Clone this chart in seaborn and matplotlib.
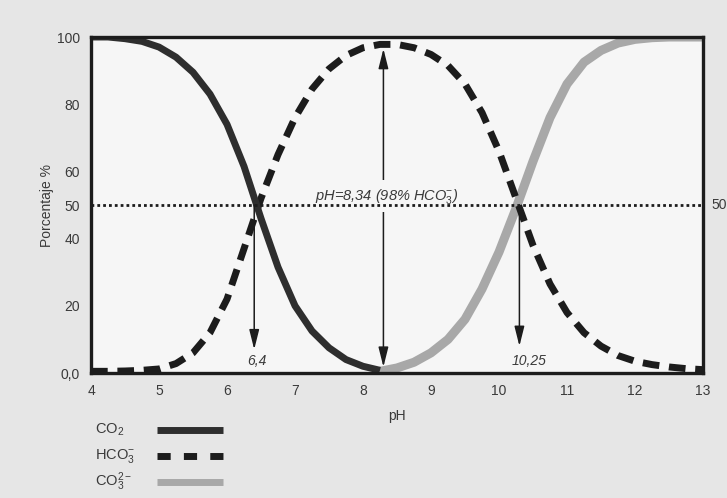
import matplotlib
matplotlib.use("Agg")
import matplotlib.pyplot as plt
import seaborn as sns
from matplotlib.lines import Line2D

# pH grid (step 0.25)
ph = [4.0, 4.25, 4.5, 4.75, 5.0, 5.25, 5.5, 5.75, 6.0, 6.25, 6.5, 6.75,
      7.0, 7.25, 7.5, 7.75, 8.0, 8.25, 8.5, 8.75, 9.0, 9.25, 9.5, 9.75,
      10.0, 10.25, 10.5, 10.75, 11.0, 11.25, 11.5, 11.75, 12.0, 12.25,
      12.5, 12.75, 13.0]

# CO2 only drawn up to pH 8.25, CO3 2- from 8.25 on
co2_ph = ph[:18]
co2 = [100, 100, 99.5, 98.7, 97, 94, 89.5, 83, 74, 61.5, 46, 31.5,
       20, 12.5, 7.5, 4, 2, 0.8]

hco3 = [0.5, 0.5, 0.6, 0.8, 1.2, 2.8, 6, 12, 22, 37, 52, 65,
        76, 84.5, 90.5, 94.5, 96.8, 97.8, 97.8, 96.8, 94.8, 91.5, 86, 77.5,
        66, 52, 38, 26.5, 18, 12, 8, 5.2, 3.5, 2.5,
        1.8, 1.3, 1]

co3_ph = ph[17:]
co3 = [0.5, 1.5, 3.2, 6, 10, 16, 25, 36, 49, 63, 76, 86,
       92.5, 96, 98.2, 99.3, 99.8, 100, 100, 100]

xticks = [4, 5, 6, 7, 8, 9, 10, 11, 12, 13]
yticks = [0, 20, 40, 50, 60, 80, 100]
ytick_labels = ["0,0", "20", "40", "50", "60", "80", "100"]

pk1, pk2, ph_max = 6.4, 10.3, 8.3

sns.set_theme(style="white")
plt.rcParams["font.family"] = ["Liberation Sans", "DejaVu Sans"]
plt.rcParams["mathtext.fontset"] = "custom"
plt.rcParams["mathtext.rm"] = "Liberation Sans"
plt.rcParams["mathtext.it"] = "Liberation Sans:italic"

ink = "#1c1c1c"
txt = "#3a3a3a"

fig, ax = plt.subplots(figsize=(7.27, 4.98), dpi=100)
fig.patch.set_facecolor("#e6e6e6")
ax.set_facecolor("#f6f6f6")
fig.subplots_adjust(left=0.1252, right=0.967, top=0.9257, bottom=0.251)

sns.lineplot(x=co3_ph, y=co3, ax=ax, color="#a8a8a8", lw=6.5,
             solid_capstyle="butt", solid_joinstyle="round", zorder=2)
sns.lineplot(x=ph, y=hco3, ax=ax, color=ink, lw=5, zorder=2.2)
ax.lines[-1].set_dashes((2.4, 1.4))
ax.lines[-1].set_dash_capstyle("butt")
ax.lines[-1].set_dash_joinstyle("round")
sns.lineplot(x=co2_ph, y=co2, ax=ax, color="#2e2e2e", lw=5,
             solid_capstyle="butt", solid_joinstyle="round", zorder=2.4)

ax.set_xlim(4, 13)
ax.set_ylim(0, 100)
ax.set_xticks(xticks)
ax.set_xticklabels([str(t) for t in xticks])
ax.set_yticks(yticks)
ax.set_yticklabels(ytick_labels)

for s in ax.spines.values():
    s.set_color(ink)
    s.set_linewidth(2.4)
    s.set_visible(True)

ax.tick_params(axis="x", direction="in", length=7, width=2.2, color=ink,
               labelsize=10, labelcolor=txt, pad=8)
ax.tick_params(axis="y", direction="in", length=11, width=2.2, color=ink,
               labelsize=10, labelcolor=txt, pad=8)
ax.yaxis.get_major_ticks()[3].tick1line.set_visible(False)

ax.set_xlabel("pH", fontsize=10, color=txt, labelpad=8)
ax.set_ylabel("Porcentaje %", fontsize=10, color=txt, labelpad=2)

# 50 % reference line
ax.axhline(50, color=ink, lw=2.0, ls=(0, (1, 1.1)), zorder=5)
ax.text(1.013, 50, "50", transform=ax.get_yaxis_transform(), va="center",
        ha="left", fontsize=10, color=txt, clip_on=False)

# pK arrows
arrow = dict(arrowstyle="-|>,head_length=1.0,head_width=0.25", color=ink,
             lw=1.1, shrinkA=0, shrinkB=0)
ax.annotate("", xy=(pk1, 7), xytext=(pk1, 50), arrowprops=arrow, zorder=3)
ax.annotate("", xy=(pk2, 8), xytext=(pk2, 50), arrowprops=arrow, zorder=3)
ax.text(6.44, 3.5, "6,4", ha="center", va="center", fontsize=10,
        style="italic", color=txt)
ax.text(10.44, 3.5, "10,25", ha="center", va="center", fontsize=10,
        style="italic", color=txt)

both = dict(arrowstyle="<|-|>,head_length=1.0,head_width=0.25", color=ink,
            lw=1.1, shrinkA=0, shrinkB=0)
ax.annotate("", xy=(ph_max, 96.5), xytext=(ph_max, 1.8), arrowprops=both,
            zorder=3)
ax.text(8.35, 49.8, "pH=8,34 (98% HCO$_3^{-}$)", ha="center", va="bottom",
        fontsize=10.5, style="italic", color=txt, zorder=4,
        bbox=dict(boxstyle="square,pad=0.45", fc="#f6f6f6", ec="none"))

# legend drawn below the axes, label first then line sample
legend_rows = [
    ("CO$_2$", "#2e2e2e", "-"),
    ("HCO$_3^{-}$", ink, (0, (1.9, 1.9))),
    ("CO$_3^{2-}$", "#a8a8a8", "-"),
]
for i, (label, color, ls) in enumerate(legend_rows):
    y = 0.137 - i * 0.0525
    fig.text(0.131, y, label, va="center", ha="left", fontsize=10.5, color=txt)
    fig.add_artist(Line2D([0.216, 0.307], [y, y], transform=fig.transFigure,
                          color=color, lw=5, ls=ls, solid_capstyle="butt",
                          dash_capstyle="butt"))

fig.savefig("out.png", dpi=100, facecolor=fig.get_facecolor())
